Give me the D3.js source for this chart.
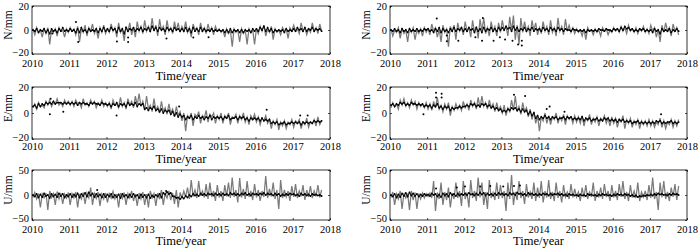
<!DOCTYPE html>
<html>
<head>
<meta charset="utf-8">
<script src="https://cdn.jsdelivr.net/npm/d3@7"></script>
<style>
  body { margin: 0; background: #fff; }
  svg { display: block; }
  text { font-family: "Liberation Serif", "Times New Roman", serif; fill: #000; }
</style>
</head>
<body>
<div id="chart"></div>
<script>
// x tick labels, years
var years = [2010, 2011, 2012, 2013, 2014, 2015, 2016, 2017, 2018];
// series every 0.05 year, starting early 2010
var t0 = 2010.025, dt = 0.05;

// ---- N, left station
var nLeftGray = [1,-4,2,-2,0,-6,1,-3,2,-12,0,-2,1,-5,2,-1,0,-6,1,-2,
  2,-1,1,-4,3,-10,1,-2,4,-5,2,-1,5,-3,1,-7,2,-2,4,-3,
  1,-2,5,-1,2,-6,6,-2,1,-9,3,-1,6,-4,2,-6,7,-1,3,-3,
  8,-1,3,-2,10,-1,4,-5,9,0,3,-4,8,-1,2,-3,7,-1,6,-2,
  3,-1,7,-2,2,-6,5,0,2,-4,6,-1,2,-3,5,-1,2,-4,3,-1,
  1,-2,0,-6,1,-3,0,-14,1,-2,0,-10,1,-3,0,-12,1,-2,0,-12,
  1,-3,3,-1,4,-5,1,-2,3,-8,1,-2,0,-4,2,-1,1,-7,2,-1,
  4,-1,1,-3,6,-1,2,-4,1,-2,6,-1,2,-3,5,-1];
var nLeftBlack = [0,-1,1,-2,0,-1,1,-2,0,-3,1,-1,0,-2,1,-1,2,-1,0,-1,
  1,-1,0,-2,1,-2,2,-1,0,-2,1,-1,0,-1,1,-2,1,-1,2,-1,
  1,-1,2,0,1,-2,2,-1,1,-3,2,-1,1,0,2,-1,1,0,2,-1,
  1,0,2,-1,3,0,2,-1,2,0,1,-1,2,0,1,-1,2,0,1,-1,
  1,-1,2,-1,1,-2,2,-1,1,-1,2,-1,1,-1,0,-1,1,-1,0,-1,
  0,-1,0,-2,0,-2,1,-2,0,-1,0,-2,0,-2,0,-1,0,-2,1,-1,
  1,-1,2,0,3,-1,2,-1,1,-2,0,-1,0,-1,0,-2,1,-1,0,-1,
  1,-1,2,0,1,-1,2,-1,1,0,2,-1,1,0,1,-1];
var nLeftOutYear = [2010.55, 2011.18, 2011.24, 2012.28, 2012.58, 2012.58, 2013.61, 2014.33, 2014.74];
var nLeftOutVal  = [-3, 6.7, -10, -9.5, -6.3, -10, -7, -6.3, -6];

// ---- N, right station
var nRightGray = [1,-5,0,-2,2,-7,1,-3,0,-10,1,-2,2,-8,0,-3,1,-5,2,-2,
  1,-4,5,-1,2,-6,1,-10,4,-2,1,-14,3,-1,4,-8,6,-1,2,-4,
  7,-1,2,-6,8,-2,3,-7,9,-1,10,-3,2,-5,7,-1,3,-5,6,-2,
  8,0,3,-5,11,-1,12,-8,4,-12,10,-2,7,-1,3,-5,8,0,6,-4,
  2,-3,7,-1,3,-4,8,-2,2,-5,10,-1,3,-4,9,-1,4,-2,2,-3,
  1,-2,0,-5,1,-8,2,-1,0,-4,1,-2,0,-5,2,-1,1,-4,0,-2,
  2,-1,1,-2,3,-1,2,-3,4,-1,1,-2,2,-3,1,-1,3,-2,1,-3,
  4,-1,2,-6,1,-10,4,-2,6,-1,2,-5,5,-1,2,-4];
var nRightBlack = [0,-1,1,-1,0,-2,1,-1,0,-2,1,-1,0,-1,1,-1,0,-1,1,0,
  1,-1,0,-2,1,-1,2,-2,1,-1,0,-2,1,-1,2,-1,1,0,2,-1,
  1,-1,2,0,1,-2,2,-1,1,-2,2,-1,1,0,2,-1,1,-1,2,0,
  2,0,3,1,2,-1,3,0,2,-1,1,0,2,-1,1,0,2,-1,1,0,
  1,-1,2,0,1,-1,2,0,1,-1,2,0,1,-1,1,0,0,-1,1,0,
  0,-1,0,-1,0,-2,0,-1,0,-1,0,-1,1,0,0,-1,1,0,0,-1,
  1,0,1,-1,2,0,3,1,2,0,1,-1,0,-1,1,0,1,-1,0,-1,
  0,-2,1,-1,0,-3,1,-1,0,-1,1,-2,0,-1,1,-1];
var nRightOutYear = [2011.26, 2011.53, 2011.53, 2011.84, 2012.3, 2012.48, 2012.5, 2012.79, 2012.96, 2013.1, 2013.3, 2013.45, 2013.55, 2013.55];
var nRightOutVal  = [9.5, -9.3, -4.5, -9, -6, -9, 10, -9, -6, -8, -9, -12, -9, -13];

// ---- E, left station
var eLeftGray = [4,7,3,8,5,6,4,9,6,10,5,8,7,11,6,8,5,10,7,9,
  6,9,5,10,7,8,4,11,6,8,5,10,7,9,4,8,6,10,5,8,
  5,8,3,10,6,7,4,12,5,8,3,11,6,9,4,13,6,15,5,9,
  2,13,3,6,1,11,2,5,0,9,1,4,-1,7,0,3,-3,5,-2,1,
  -6,0,-14,-2,-4,0,-10,-1,-3,1,-8,-2,-4,2,-7,-1,-3,0,-8,-2,
  -5,0,-8,-2,-4,0,-9,-3,-4,-1,-8,-2,-5,0,-7,-3,-9,-2,-5,-1,
  -7,-3,-9,-4,-6,-2,-8,-5,-12,-6,-9,-5,-13,-7,-10,-6,-12,-7,-9,-5,
  -11,-6,-8,-5,-12,-7,-9,-4,-11,-7,-8,-5,-10,-3,-9,-6];
var eLeftBlack = [5,6,4,7,5,7,6,8,7,8,7,9,7,8,8,8,7,8,7,8,
  7,8,7,8,6,8,7,8,7,7,6,8,7,8,7,7,6,8,7,7,
  6,7,5,7,6,8,5,7,6,7,5,8,6,7,6,8,5,7,6,7,
  3,4,2,4,3,5,2,3,1,3,0,2,1,2,-1,1,-2,0,-3,-1,
  -3,-2,-5,-3,-4,-2,-5,-3,-4,-2,-4,-3,-5,-3,-4,-2,-5,-3,-4,-3,
  -4,-3,-5,-3,-4,-2,-5,-4,-4,-3,-5,-3,-4,-3,-5,-4,-6,-4,-5,-4,
  -5,-4,-6,-4,-6,-5,-6,-5,-8,-7,-8,-7,-9,-8,-8,-7,-9,-8,-8,-7,
  -8,-7,-8,-7,-9,-7,-8,-7,-8,-7,-8,-6,-7,-6,-7,-6];
var eLeftOutYear = [2010.48, 2010.5, 2010.84, 2012.27, 2013.95, 2016.3, 2017.2, 2017.4];
var eLeftOutVal  = [-1, 11, 1, -2, 5, 2.5, -2, -2];

// ---- E, right station
var eRightGray = [4,8,5,7,3,10,6,11,5,8,4,10,6,9,3,8,5,7,4,8,
  3,7,2,9,4,12,3,6,1,7,3,8,-2,5,2,7,3,6,2,9,
  4,7,2,10,5,8,3,12,4,13,5,8,3,10,4,7,1,8,2,5,
  0,6,-2,4,1,10,2,13,1,5,-1,8,1,4,-3,3,-5,1,-8,-2,
  -14,-3,-6,0,-8,-2,-9,-3,-5,0,-8,-3,-6,-1,-9,-2,-5,-3,-8,-2,
  -7,-3,-8,-2,-10,-4,-6,-1,-9,-4,-7,-3,-10,-4,-6,-2,-8,-4,-10,-3,
  -8,-4,-11,-5,-7,-2,-12,-5,-8,-4,-11,-6,-9,-5,-12,-6,-9,-6,-10,-5,
  -10,-6,-11,-7,-9,-4,-11,-6,-12,-7,-9,-5,-11,-6,-10,-5];
var eRightBlack = [6,7,5,7,6,8,7,8,6,7,6,8,7,7,6,7,6,7,5,6,
  5,6,4,6,5,7,4,5,3,5,4,5,2,4,3,4,4,5,4,5,
  5,6,5,7,6,7,5,6,5,7,6,7,5,6,4,5,3,4,2,3,
  1,2,1,3,2,4,3,4,2,3,1,3,1,2,-1,1,-2,0,-4,-2,
  -5,-3,-4,-2,-4,-3,-5,-3,-4,-3,-5,-4,-4,-3,-5,-3,-4,-3,-5,-4,
  -5,-4,-5,-3,-6,-4,-5,-4,-6,-5,-5,-4,-6,-5,-6,-4,-5,-4,-6,-5,
  -6,-5,-7,-5,-6,-5,-7,-6,-7,-6,-8,-7,-7,-6,-8,-7,-8,-7,-8,-7,
  -8,-7,-8,-6,-7,-6,-8,-7,-8,-7,-7,-6,-8,-7,-8,-7];
var eRightOutYear = [2010.9, 2011.24, 2011.24, 2011.39, 2011.39, 2013.34, 2013.64, 2014.22, 2014.3, 2014.7, 2017.3];
var eRightOutVal  = [-1, 15.5, 12, 14.8, 12, 14, 13, 3, 5, 1, -1];

// ---- U, left station
var uLeftGray = [-5,5,-8,3,-25,2,-6,4,-30,8,-5,3,-20,7,-8,4,-18,2,-6,5,
  -20,3,-6,6,-25,2,-8,5,-18,4,-6,15,-20,3,-7,6,-22,2,-8,4,
  -15,3,-6,7,-8,2,-25,4,-7,5,-20,3,-6,8,-12,2,-22,4,-8,6,
  -20,2,-25,8,-6,3,-22,4,-8,10,-20,3,-6,8,-10,4,-18,10,-25,5,
  -6,8,-4,15,-8,30,-3,10,-6,28,-2,8,-5,22,-8,25,-4,8,-12,20,
  -5,8,-12,20,-3,25,-6,35,-4,10,-15,34,-5,12,-8,28,-4,8,-10,22,
  -5,10,-12,8,-4,38,-6,12,-3,25,-8,10,-28,30,-6,10,-4,8,-12,18,
  -4,22,-6,8,-3,20,-10,10,-4,18,-6,8,-3,20,-5,10];
var uLeftBlack = [0,-3,2,-5,1,-4,3,-2,0,-6,2,-3,1,-4,3,-2,2,-5,0,-3,
  2,-4,1,-3,3,-5,2,-2,4,-3,5,-1,3,-4,2,-3,1,-5,2,-4,
  1,-3,2,-5,0,-4,1,-6,2,-3,0,-5,1,-4,2,-3,0,-6,1,-4,
  0,-5,1,-6,-1,-4,0,-3,2,-5,4,1,6,2,4,-2,-3,-6,-5,-8,
  -4,-7,-2,-5,0,-3,2,-1,1,-2,3,0,2,-1,3,1,2,-1,3,0,
  2,-1,3,0,2,-1,4,1,3,0,2,-1,3,1,4,0,2,-1,3,1,
  2,0,3,1,4,0,3,1,2,-1,3,0,2,-2,1,-1,2,0,3,1,
  2,-1,1,-2,3,0,2,-1,1,-2,2,0,1,-1,0,-2];
var uLeftOutYear = [2011.75, 2013.6];
var uLeftOutVal  = [10, 8];

// ---- U, right station
var uRightGray = [-5,6,-20,2,-8,8,-28,4,-6,3,-30,8,-10,5,-28,3,-8,4,-6,3,
  -3,4,-6,28,-32,5,-8,25,-20,6,-10,15,-25,4,-8,25,-6,8,-22,28,
  -8,5,-25,30,-6,8,-12,35,-5,25,-20,6,-28,30,-6,5,-10,25,-8,20,
  -6,8,-32,25,-8,40,-20,6,-10,28,-6,8,-18,22,-5,6,-8,25,-12,15,
  -6,28,-15,8,-5,30,-8,6,-12,25,-6,8,-15,20,-4,6,-8,22,-5,12,
  -4,6,-12,15,-5,20,-8,6,-4,25,-12,8,-5,15,-8,22,-4,8,-12,20,
  -5,8,-10,22,-4,28,-8,6,-12,20,-5,8,-6,25,-12,6,-4,8,-10,20,
  -6,35,-8,6,-30,25,-5,28,-8,6,-12,15,-4,22,-10,18];
var uRightBlack = [0,-3,2,-5,1,-4,3,-2,4,-3,5,-1,3,-2,2,-3,1,-2,2,-1,
  1,-2,3,0,2,-3,1,-4,3,-1,2,-3,4,0,2,-2,3,-1,2,0,
  3,0,4,1,2,-1,3,0,5,1,4,-1,3,0,2,-1,3,0,4,1,
  3,0,2,-1,4,1,3,0,5,2,3,0,2,-1,4,1,3,0,2,-1,
  2,0,3,1,2,-1,3,0,2,1,3,0,2,-1,1,-2,2,0,1,-1,
  0,-2,1,-1,0,-2,2,0,1,-1,0,-2,1,-1,2,0,1,-1,0,-2,
  1,-1,2,0,1,-1,2,0,1,-2,0,-3,-1,-4,-2,-3,-1,-2,0,-1,
  1,-1,2,0,3,1,2,0,1,-1,2,0,3,1,2,0];
var uRightOutYear = [2011.24, 2011.8, 2012.02, 2012.43, 2012.7, 2013.05, 2013.34, 2013.5];
var uRightOutVal  = [13, 15, 17, 17, 18, 17, 18, 19];

var nTicks = [-20, 0, 20], uTicks = [-50, 0, 50];

// layout
var W = 700, H = 249;
var cols = [[32, 330], [390, 687]];
var rows = [[6, 54], [87, 139], [170, 220]];
var tickOff = [12.5, 11, 12.5], titleOff = [25.5, 23.5, 25];

var panels = [
  {r: 0, c: 0, lab: "N/mm", ticks: nTicks, gray: nLeftGray,  black: nLeftBlack,  oy: nLeftOutYear,  ov: nLeftOutVal},
  {r: 0, c: 1, lab: "N/mm", ticks: nTicks, gray: nRightGray, black: nRightBlack, oy: nRightOutYear, ov: nRightOutVal},
  {r: 1, c: 0, lab: "E/mm", ticks: nTicks, gray: eLeftGray,  black: eLeftBlack,  oy: eLeftOutYear,  ov: eLeftOutVal},
  {r: 1, c: 1, lab: "E/mm", ticks: nTicks, gray: eRightGray, black: eRightBlack, oy: eRightOutYear, ov: eRightOutVal},
  {r: 2, c: 0, lab: "U/mm", ticks: uTicks, gray: uLeftGray,  black: uLeftBlack,  oy: uLeftOutYear,  ov: uLeftOutVal},
  {r: 2, c: 1, lab: "U/mm", ticks: uTicks, gray: uRightGray, black: uRightBlack, oy: uRightOutYear, ov: uRightOutVal}
];

var svg = d3.select("#chart").append("svg")
  .attr("width", W).attr("height", H);

panels.forEach(function(p, i) {
  var x0 = cols[p.c][0], x1 = cols[p.c][1];
  var top = rows[p.r][0], bot = rows[p.r][1];
  var x = d3.scaleLinear().domain([2010, 2018]).range([x0, x1]);
  var y = d3.scaleLinear().domain([p.ticks[0], p.ticks[2]]).range([bot, top]);
  var g = svg.append("g");

  g.append("clipPath").attr("id", "clip" + i)
    .append("rect").attr("x", x0).attr("y", top).attr("width", x1 - x0).attr("height", bot - top);

  var data = g.append("g").attr("clip-path", "url(#clip" + i + ")");
  var line = d3.line()
    .x(function(d, k) { return x(t0 + k * dt); })
    .y(function(d) { return y(d); });

  data.append("path").datum(p.gray)
    .attr("d", line).attr("fill", "none")
    .attr("stroke", "#7a7a7a").attr("stroke-width", 1.25);

  data.append("path").datum(p.black)
    .attr("d", line).attr("fill", "none")
    .attr("stroke", "#1a1a1a").attr("stroke-width", 1.1);

  data.selectAll("circle.b").data(p.black).enter().append("circle")
    .attr("cx", function(d, k) { return x(t0 + k * dt); })
    .attr("cy", function(d) { return y(d); })
    .attr("r", 0.9).attr("fill", "#000");

  data.selectAll("circle.o").data(p.oy).enter().append("circle")
    .attr("cx", function(d) { return x(d); })
    .attr("cy", function(d, k) { return y(p.ov[k]); })
    .attr("r", 1).attr("fill", "#000");

  // axes, matlab style: ticks inside on all four sides
  var ax = g.append("g").attr("transform", "translate(0," + bot + ")")
    .call(d3.axisBottom(x).tickValues(years).tickSize(-2).tickSizeOuter(0).tickFormat(d3.format("d")));
  ax.selectAll("text").attr("y", tickOff[p.r]).attr("dy", null).style("font-size", "10.5px");
  g.append("g").attr("transform", "translate(0," + top + ")")
    .call(d3.axisTop(x).tickValues(years).tickSize(-2).tickSizeOuter(0).tickFormat(""));
  var ay = g.append("g").attr("transform", "translate(" + x0 + ",0)")
    .call(d3.axisLeft(y).tickValues(p.ticks).tickSize(-2).tickSizeOuter(0));
  ay.selectAll("text").attr("x", -3).attr("dy", "0.3em").style("font-size", "10.5px");
  // bottom label sits a little higher so it clears the year labels
  ay.selectAll(".tick").filter(function(d) { return d === p.ticks[0]; })
    .select("text").attr("dy", "0.1em");
  g.append("g").attr("transform", "translate(" + x1 + ",0)")
    .call(d3.axisRight(y).tickValues(p.ticks).tickSize(-2).tickSizeOuter(0).tickFormat(""));
  g.selectAll(".domain").remove();
  g.selectAll(".tick line").attr("stroke", "#000").attr("stroke-width", 0.7);
  g.selectAll(".tick text").attr("fill", "#000");

  g.append("rect").attr("x", x0).attr("y", top).attr("width", x1 - x0).attr("height", bot - top)
    .attr("fill", "none").attr("stroke", "#000").attr("stroke-width", 0.8);

  g.append("text")
    .attr("x", (x0 + x1) / 2).attr("y", bot + titleOff[p.r])
    .attr("text-anchor", "middle").style("font-size", "12.5px")
    .text("Time/year");

  g.append("text")
    .attr("transform", "translate(" + (x0 - 20) + "," + ((top + bot) / 2 - 5) + ") rotate(-90)")
    .attr("text-anchor", "middle").style("font-size", "11.5px")
    .text(p.lab);
});
</script>
</body>
</html>
